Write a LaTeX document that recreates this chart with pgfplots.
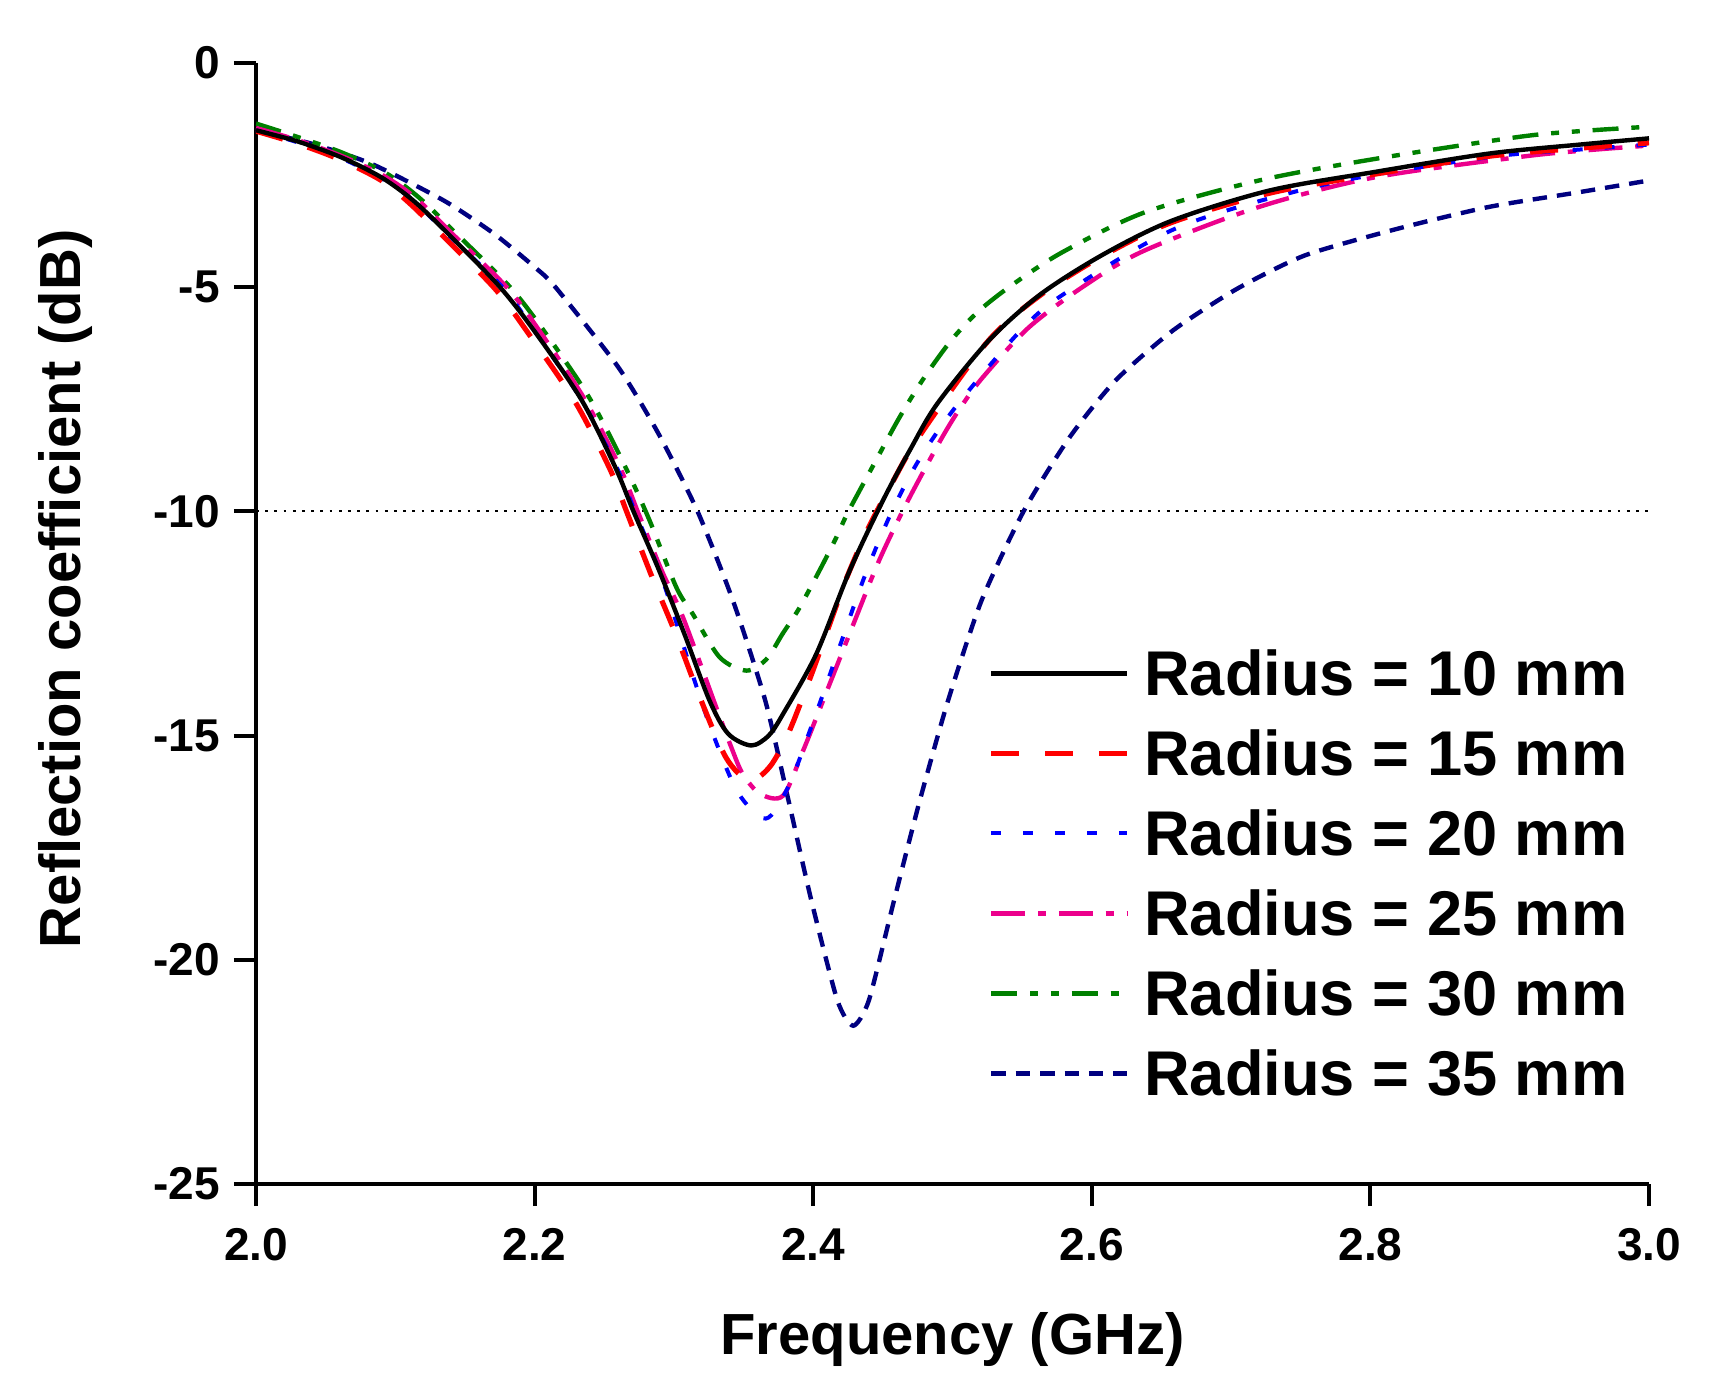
\documentclass[border=0pt]{standalone}
\usepackage{pgfplots}
\pgfplotsset{compat=1.18}
\usepackage{fontspec}
\setmainfont{Liberation Sans}
\definecolor{navy}{RGB}{0,0,128}
\definecolor{dgreen}{RGB}{0,128,0}
\begin{document}
\begin{tikzpicture}
\path[use as bounding box] (-64pt,-52.75pt) rectangle (366.25pt,296pt);
\begin{axis}[
  at={(0,0)}, anchor=south west,
  scale only axis, width=348.25pt, height=280.25pt,
  xmin=2, xmax=3, ymin=-25, ymax=0,
  axis x line*=bottom, axis y line*=left,
  axis line style={-, line width=1pt},
  xtick={2,2.2,2.4,2.6,2.8,3}, xticklabels={2.0,2.2,2.4,2.6,2.8,3.0},
  ytick={-25,-20,-15,-10,-5,0}, yticklabels={-25,-20,-15,-10,-5,0},
  tick align=outside, major tick length=5.5pt,
  tick style={line width=1pt, black},
  ticklabel style={font=\fontsize{11.5}{13}\selectfont\bfseries},
  xticklabel style={yshift=-2pt},
  xlabel={Frequency (GHz)}, ylabel={Reflection coefficient (dB)},
  label style={font=\fontsize{14.5}{17}\selectfont\bfseries},
  xlabel style={at={(axis description cs:0.5,-0.1525)}, anchor=base},
  ylabel style={at={(axis description cs:-0.1364,0.531)}, anchor=center},
  legend style={draw=none, fill=none, at={(rel axis cs:0.526,0.4755)}, anchor=north west,
    inner sep=0pt, outer sep=0pt, row sep=8.8pt, column sep=3.6pt,
    font=\fontsize{15.8}{18}\selectfont\bfseries,
    nodes={inner sep=0pt, text height=11.2pt, text depth=0pt}},
  legend cell align=left,
  legend image code/.code={\draw[#1] (0pt,0pt) -- (34pt,0pt);},
  reverse legend,
]
\addplot[forget plot, black, line width=0.5pt, dash pattern=on 0.7pt off 1.6pt] coordinates {(2,-10) (3,-10)};

% R = 35 mm
\addplot[navy, line width=1.1pt, dash pattern=on 3.6pt off 2.5pt, smooth, tension=0.4] coordinates {
(2.000,-1.50) (2.040,-1.80) (2.083,-2.25) (2.135,-3.07) (2.171,-3.81) (2.200,-4.55)
(2.215,-5.00) (2.260,-6.78) (2.289,-8.27) (2.317,-10.0) (2.3424,-11.99) (2.3656,-14.22)
(2.3823,-16.45) (2.3987,-18.68) (2.4173,-20.9) (2.4287,-21.47) (2.440,-20.9)
(2.458,-18.68) (2.4765,-16.45) (2.4968,-14.22) (2.5208,-11.99) (2.551,-10.0)
(2.584,-8.35) (2.617,-7.08) (2.658,-5.97) (2.704,-5.04) (2.753,-4.29) (2.819,-3.70)
(2.885,-3.21) (2.950,-2.88) (3.000,-2.62)};
\addlegendentry{Radius = 35 mm}

% R = 30 mm
\addplot[dgreen, line width=1.1pt, dash pattern=on 6.5pt off 3.2pt on 2pt off 3.2pt on 2pt off 3.2pt, smooth, tension=0.5] coordinates {
(2.000,-1.35) (2.030,-1.65) (2.062,-2.00) (2.093,-2.45) (2.117,-3.00) (2.142,-3.75)
(2.181,-4.95) (2.205,-5.90) (2.239,-7.45) (2.265,-9.00) (2.2825,-10.2) (2.3017,-11.69)
(2.3136,-12.29) (2.3328,-13.25) (2.352,-13.55) (2.3663,-13.3) (2.378,-12.73)
(2.389,-12.21) (2.3963,-11.8) (2.407,-11.17) (2.4166,-10.58) (2.4238,-10.09)
(2.4334,-9.53) (2.443,-8.98) (2.462,-7.90) (2.480,-7.00) (2.500,-6.15) (2.520,-5.50)
(2.545,-4.90) (2.580,-4.20) (2.638,-3.33) (2.720,-2.62) (2.803,-2.14) (2.906,-1.65)
(2.950,-1.52) (3.000,-1.42)};
\addlegendentry{Radius = 30 mm}

% R = 25 mm
\addplot[magenta, line width=1.1pt, dash pattern=on 8.5pt off 3.2pt on 2pt off 3.2pt, smooth, tension=0.5] coordinates {
(2.000,-1.45) (2.030,-1.72) (2.062,-2.08) (2.092,-2.52) (2.115,-3.02) (2.140,-3.78)
(2.180,-5.00) (2.203,-5.95) (2.236,-7.50) (2.261,-9.00) (2.274,-10.0) (2.291,-11.3)
(2.3065,-12.36) (2.3304,-14.37) (2.3412,-15.26) (2.3495,-15.86) (2.362,-16.3)
(2.3783,-16.34) (2.3927,-15.34) (2.4118,-13.85) (2.4298,-12.44) (2.4478,-11.06)
(2.468,-9.76) (2.492,-8.38) (2.5065,-7.65) (2.522,-7.0) (2.555,-5.89) (2.5965,-4.93)
(2.638,-4.18) (2.720,-3.21) (2.803,-2.55) (2.906,-2.10) (2.950,-1.96) (3.000,-1.84)};
\addlegendentry{Radius = 25 mm}

% R = 20 mm
\addplot[blue, line width=1pt, dash pattern=on 2.5pt off 5.5pt, smooth, tension=0.5] coordinates {
(2.000,-1.50) (2.030,-1.77) (2.061,-2.12) (2.090,-2.57) (2.113,-3.07) (2.138,-3.83)
(2.177,-5.00) (2.200,-5.98) (2.234,-7.53) (2.259,-9.02) (2.272,-10.0) (2.292,-11.54)
(2.3133,-13.63) (2.328,-14.96) (2.346,-16.27) (2.366,-16.85) (2.382,-16.15)
(2.3975,-14.9) (2.413,-13.55) (2.4358,-11.54) (2.455,-10.1) (2.475,-8.9) (2.502,-7.68)
(2.547,-6.03) (2.580,-5.15) (2.6625,-3.66) (2.770,-2.69) (2.885,-2.10) (2.950,-1.93)
(3.000,-1.82)};
\addlegendentry{Radius = 20 mm}

% R = 15 mm
\addplot[red, line width=1.3pt, dash pattern=on 7pt off 6.5pt, smooth, tension=0.5] coordinates {
(2.000,-1.52) (2.030,-1.80) (2.060,-2.15) (2.090,-2.62) (2.110,-3.12) (2.134,-3.85)
(2.172,-5.05) (2.196,-6.05) (2.229,-7.55) (2.254,-9.05) (2.266,-10.0) (2.2835,-11.4)
(2.3015,-12.75) (2.3196,-14.22) (2.3376,-15.5) (2.354,-16.0) (2.3687,-15.7)
(2.382,-14.96) (2.3975,-13.74) (2.4106,-12.62) (2.4238,-11.5) (2.4393,-10.39)
(2.4569,-9.35) (2.476,-8.33) (2.525,-6.22) (2.563,-5.18) (2.608,-4.30) (2.657,-3.56)
(2.728,-2.90) (2.803,-2.48) (2.885,-2.08) (2.950,-1.90) (3.000,-1.78)};
\addlegendentry{Radius = 15 mm}

% R = 10 mm
\addplot[black, line width=1.1pt, smooth, tension=0.5] coordinates {
(2.000,-1.50) (2.030,-1.75) (2.061,-2.10) (2.090,-2.55) (2.113,-3.07) (2.138,-3.81)
(2.1752,-5.00) (2.2013,-6.04) (2.234,-7.53) (2.258,-9.02) (2.271,-10.0) (2.2885,-11.25)
(2.3075,-12.73) (2.3256,-14.22) (2.339,-14.96) (2.3555,-15.22) (2.368,-15.0)
(2.3783,-14.52) (2.4022,-13.18) (2.4262,-11.32) (2.450,-9.76) (2.470,-8.6) (2.489,-7.6)
(2.526,-6.19) (2.5635,-5.15) (2.6087,-4.26) (2.658,-3.51) (2.728,-2.84) (2.803,-2.43)
(2.885,-2.02) (2.950,-1.82) (3.000,-1.68)};
\addlegendentry{Radius = 10 mm}
\end{axis}
\end{tikzpicture}
\end{document}
